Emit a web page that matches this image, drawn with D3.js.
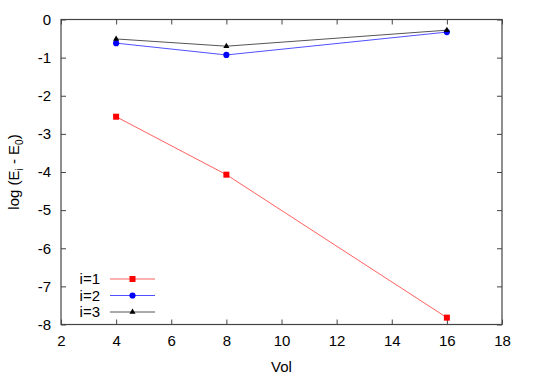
<!DOCTYPE html>
<html><head><meta charset="utf-8">
<script src="https://cdn.jsdelivr.net/npm/d3@7"></script>
<style>body{margin:0;background:#fff}svg{display:block}text{font-family:"Liberation Sans",Arial,sans-serif}</style>
</head><body>
<script>
const vol = [4, 8, 16];
const seriesNames = ["i=1", "i=2", "i=3"];
const s1 = [-2.55, -4.07, -7.82];
const s2 = [-0.62, -0.93, -0.33];
const s3 = [-0.51, -0.70, -0.28];
const xTicks = [2, 4, 6, 8, 10, 12, 14, 16, 18];
const yTicks = [0, -1, -2, -3, -4, -5, -6, -7, -8];

const W = 540, H = 378;
const L = 61, R = 502, T = 19.5, B = 324.5;
const FS = 15;
const svg = d3.select("body").append("svg").attr("width", W).attr("height", H);
const x = d3.scaleLinear().domain([2, 18]).range([L, R]);
const y = d3.scaleLinear().domain([-8, 0]).range([B, T]);
const axisCol = "#444";

const g = svg.append("g");
const ax = (sel, axis) => { sel.call(axis); sel.select(".domain").remove(); sel.selectAll("line").attr("stroke", axisCol); sel.selectAll("text").attr("font-size", FS).attr("fill", "#000").attr("font-family", "Liberation Sans, Arial, sans-serif"); };
g.append("g").attr("transform", `translate(0,${B})`).call(s => ax(s, d3.axisBottom(x).tickValues(xTicks).tickSize(-5).tickPadding(11).tickFormat(d3.format("d"))));
g.append("g").attr("transform", `translate(0,${T})`).call(s => ax(s, d3.axisTop(x).tickValues(xTicks).tickSize(-5).tickFormat("")));
g.append("g").attr("transform", `translate(${L},0)`).call(s => ax(s, d3.axisLeft(y).tickValues(yTicks).tickSize(-5).tickPadding(10).tickFormat(d => d === 0 ? "0" : "-" + Math.abs(d))));
g.append("g").attr("transform", `translate(${R},0)`).call(s => ax(s, d3.axisRight(y).tickValues(yTicks).tickSize(-5).tickFormat("")));
svg.append("rect").attr("x", L).attr("y", T).attr("width", R - L).attr("height", B - T).attr("fill", "none").attr("stroke", axisCol).attr("stroke-width", 1.2);

const series = [
  {name: seriesNames[0], vals: s1, line: "#ff6060", mark: "#ff0000", shape: d3.symbolSquare, size: 36},
  {name: seriesNames[1], vals: s2, line: "#5050ff", mark: "#0000ff", shape: d3.symbolCircle, size: 30},
  {name: seriesNames[2], vals: s3, line: "#555555", mark: "#000000", shape: d3.symbolTriangle, size: 16}
];
const line = d3.line().x((d, i) => x(vol[i])).y(d => y(d));
series.forEach(s => {
  svg.append("path").attr("d", line(s.vals)).attr("fill", "none").attr("stroke", s.line).attr("stroke-width", 1);
  svg.selectAll(null).data(s.vals).enter().append("path")
    .attr("d", d3.symbol().type(s.shape).size(s.size))
    .attr("transform", (d, i) => `translate(${x(vol[i])},${y(d)})`).attr("fill", s.mark);
});

const legY = [279, 295.5, 312];
series.forEach((s, i) => {
  const ly = legY[i];
  svg.append("text").attr("x", 100).attr("y", ly + 5.3).attr("text-anchor", "end").attr("font-size", FS).text(s.name);
  svg.append("line").attr("x1", 110).attr("x2", 155).attr("y1", ly).attr("y2", ly).attr("stroke", s.line).attr("stroke-width", 1);
  svg.append("path").attr("d", d3.symbol().type(s.shape).size(s.size)).attr("transform", `translate(132.5,${ly})`).attr("fill", s.mark);
});

svg.append("text").attr("x", (L + R) / 2).attr("y", 372).attr("text-anchor", "middle").attr("font-size", FS).text("Vol");
const yt = svg.append("text").attr("transform", `translate(19,${(T + B) / 2}) rotate(-90)`).attr("text-anchor", "middle").attr("font-size", FS);
yt.append("tspan").text("log (E");
yt.append("tspan").attr("font-size", 10).attr("dy", 4).text("i");
yt.append("tspan").attr("dy", -4).text(" - E");
yt.append("tspan").attr("font-size", 10).attr("dy", 4).text("0");
yt.append("tspan").attr("dy", -4).text(")");
</script>
</body></html>
